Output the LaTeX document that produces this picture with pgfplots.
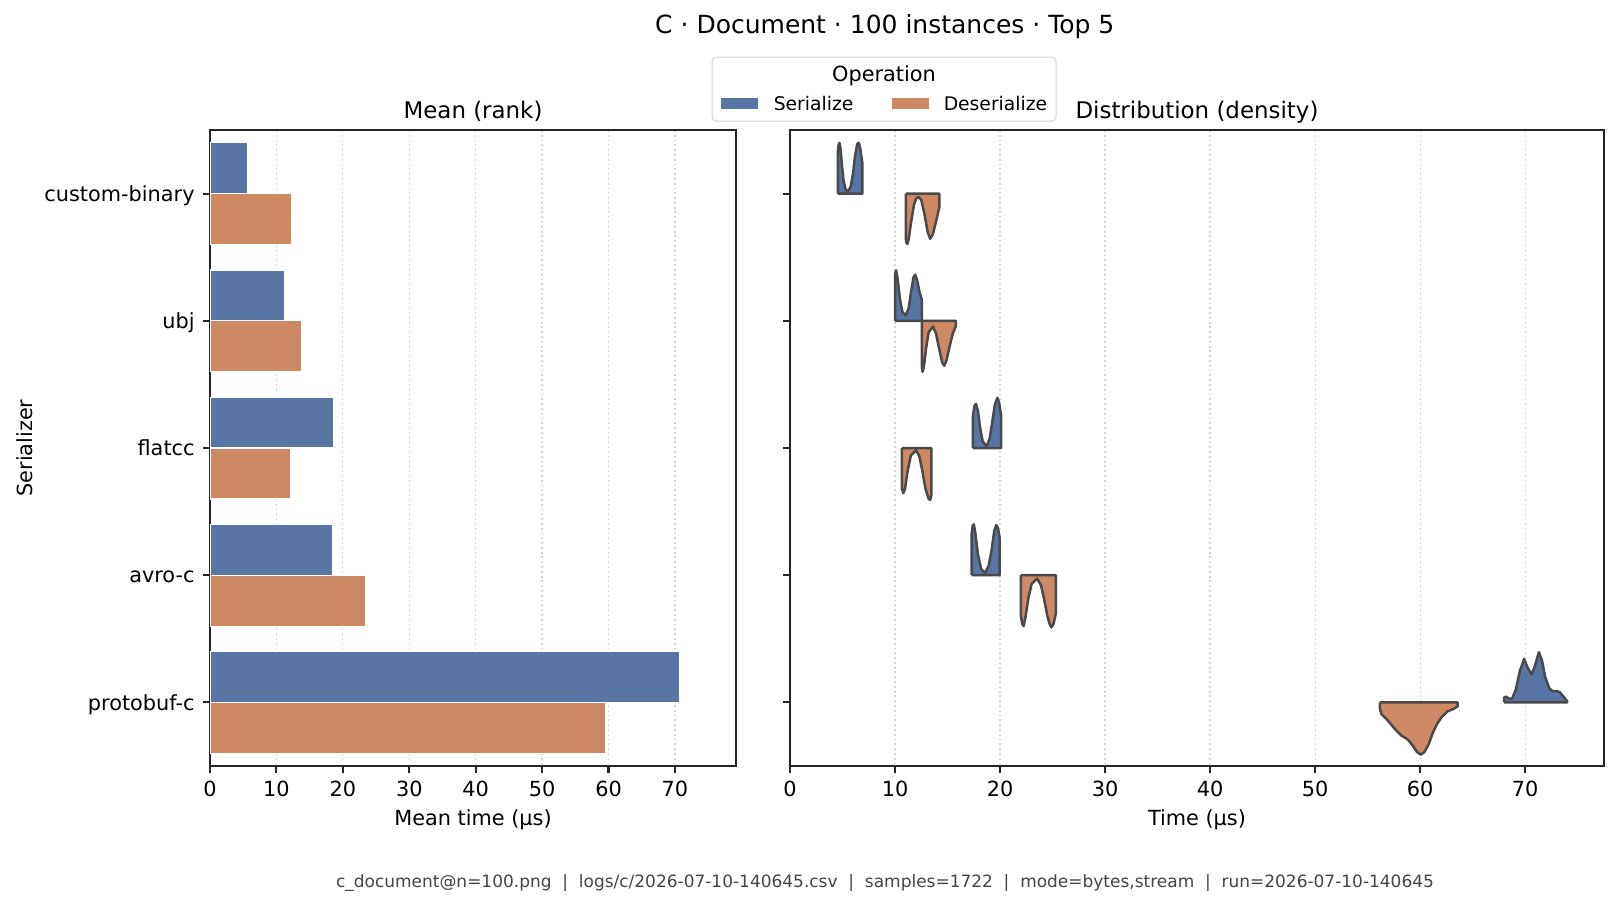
\documentclass[border=0pt]{standalone}
\usepackage{fontspec}
\setmainfont{DejaVu Sans}
\usepackage{pgfplots}
\usepackage{pgfplotstable}
\pgfplotsset{compat=1.18}

\definecolor{ser}{HTML}{5975A4}
\definecolor{des}{HTML}{CC8963}
\definecolor{spine}{HTML}{262626}
\definecolor{vedge}{HTML}{4A4A4A}
\definecolor{gridc}{HTML}{D5D5D5}
\definecolor{foot}{HTML}{444444}

% mean times (microseconds), category index 0..4 top to bottom
\pgfplotstableread{
cat ser des
0 5.61 12.23
1 11.22 13.74
2 18.66 12.09
3 18.51 23.43
4 70.75 59.55
}\means

% half-violin outlines: x = time, d = density offset (negative = upward)
\pgfplotstableread{
x d
4.55 0
4.55 -0.32
4.62 -0.38
4.70 -0.40
4.80 -0.36
4.95 -0.22
5.10 -0.10
5.30 -0.03
5.56 -0.02
5.80 -0.06
6.00 -0.16
6.20 -0.30
6.40 -0.39
6.55 -0.40
6.70 -0.35
6.85 -0.26
6.90 -0.24
6.90 0
4.55 0
}\cbS
\pgfplotstableread{
x d
11.03 0
11.03 0.36
11.10 0.39
11.18 0.395
11.30 0.36
11.50 0.24
11.80 0.09
12.00 0.04
12.24 0.026
12.50 0.05
12.80 0.16
13.10 0.30
13.35 0.355
13.60 0.32
13.90 0.22
14.21 0.11
14.21 0
11.03 0
}\cbD
\pgfplotstableread{
x d
10.01 0
10.01 -0.37
10.11 -0.397
10.25 -0.33
10.45 -0.18
10.70 -0.07
11.03 -0.042
11.30 -0.10
11.55 -0.24
11.75 -0.34
11.92 -0.363
12.10 -0.32
12.35 -0.22
12.56 -0.166
12.56 0
10.01 0
}\ubjS
\pgfplotstableread{
x d
12.56 0
12.56 0.36
12.62 0.40
12.75 0.36
12.95 0.22
13.20 0.09
13.61 0.045
13.90 0.10
14.20 0.22
14.50 0.33
14.69 0.353
14.90 0.31
15.20 0.20
15.50 0.10
15.80 0.04
15.80 0
12.56 0
}\ubjD
\pgfplotstableread{
x d
17.42 0
17.42 -0.25
17.55 -0.33
17.71 -0.347
17.90 -0.29
18.10 -0.16
18.35 -0.05
18.73 -0.016
19.00 -0.07
19.25 -0.20
19.50 -0.34
19.74 -0.395
19.90 -0.36
20.09 -0.26
20.09 0
17.42 0
}\flatS
\pgfplotstableread{
x d
10.65 0
10.65 0.32
10.80 0.355
10.95 0.32
11.20 0.18
11.50 0.06
11.99 0.018
12.30 0.06
12.60 0.18
12.90 0.32
13.20 0.40
13.35 0.408
13.45 0.37
13.45 0
10.65 0
}\flatD
\pgfplotstableread{
x d
17.30 0
17.30 -0.33
17.40 -0.39
17.50 -0.40
17.65 -0.33
17.90 -0.16
18.20 -0.05
18.57 -0.018
18.90 -0.07
19.20 -0.20
19.45 -0.35
19.64 -0.395
19.80 -0.37
19.95 -0.30
19.95 0
17.30 0
}\avroS
\pgfplotstableread{
x d
21.99 0
21.99 0.32
22.10 0.38
22.24 0.40
22.40 0.34
22.70 0.18
23.00 0.07
23.52 0.026
23.90 0.08
24.20 0.19
24.50 0.32
24.75 0.39
24.90 0.41
25.10 0.38
25.31 0.30
25.31 0
21.99 0
}\avroD
\pgfplotstableread{
x d
68.00 0
68.00 -0.04
68.20 -0.045
68.50 -0.03
68.75 -0.03
69.10 -0.10
69.50 -0.25
69.90 -0.342
70.20 -0.28
70.60 -0.22
70.90 -0.28
71.30 -0.395
71.60 -0.33
71.90 -0.20
72.30 -0.11
72.60 -0.09
73.00 -0.09
73.30 -0.08
73.70 -0.04
74.00 -0.01
74.00 0
68.00 0
}\protoS
\pgfplotstableread{
x d
56.17 0
56.17 0.05
56.30 0.09
56.90 0.14
57.50 0.20
58.20 0.26
58.80 0.29
59.30 0.34
59.70 0.39
60.05 0.41
60.40 0.39
60.80 0.33
61.20 0.24
61.60 0.17
62.00 0.12
62.60 0.07
63.20 0.05
63.57 0.03
63.57 0
56.17 0
}\protoD

\pgfplotsset{
  panel/.style={
    scale only axis,
    height=305.3pt,
    ymin=-0.5, ymax=4.5, y dir=reverse,
    ytick={0,1,2,3,4},
    xmin=0,
    xtick={0,10,...,70},
    axis line style={spine, line width=1pt},
    tick style={spine, line width=1pt},
    tick align=outside,
    major tick length=3.5pt,
    xtick pos=lower, ytick pos=left,
    xmajorgrids,
    major x grid style={gridc, line width=0.6pt, dash pattern=on 0.9pt off 1.4pt},
    tick label style={font=\fontsize{10}{12}\selectfont, text=black},
    label style={font=\fontsize{10}{12}\selectfont},
    /pgf/number format/assume math mode=true,
    xticklabel style={inner sep=0pt, anchor=north, yshift=-3.3pt},
    yticklabel style={inner sep=0pt, anchor=base east, xshift=-3.7pt, yshift=-3.7pt},
    every axis x label/.style={at={(axis description cs:0.5,-0.094)}, anchor=base},
    every axis title/.style={at={(axis description cs:0.5,1.018)}, anchor=base,
      font=\fontsize{11}{13}\selectfont},
  },
  violin/.style={line width=1.2pt, draw=vedge, line join=round},
}

\begin{document}
\begin{tikzpicture}
\useasboundingbox (0,0) rectangle (777.12pt,-434.4pt);

% left panel: mean time bars
\begin{axis}[panel,
  at={(100.8pt,-62.4pt)}, anchor=north west,
  width=252.5pt,
  xmax=79.2,
  yticklabels={custom-binary,ubj,flatcc,avro-c,protobuf-c},
  title={Mean (rank)},
  xlabel={Mean time (µs)},
  ylabel={Serializer},
  every axis y label/.style={at={(axis description cs:-0.3375,0.5)}, rotate=90, anchor=base},
]
\addplot[xbar, bar width=0.4, bar shift=-0.2, fill=ser, draw=white, line width=0.6pt]
  table[x=ser, y=cat] {\means};
\addplot[xbar, bar width=0.4, bar shift=0.2, fill=des, draw=white, line width=0.6pt]
  table[x=des, y=cat] {\means};
\end{axis}

% right panel: half violins
\begin{axis}[panel,
  at={(379.2pt,-62.4pt)}, anchor=north west,
  width=390.7pt,
  xmax=77.5,
  yticklabels={},
  title={Distribution (density)},
  xlabel={Time (µs)},
]
\addplot[violin, fill=ser] table[x=x, y expr=\thisrow{d}+0] {\cbS};
\addplot[violin, fill=des] table[x=x, y expr=\thisrow{d}+0] {\cbD};
\addplot[violin, fill=ser] table[x=x, y expr=\thisrow{d}+1] {\ubjS};
\addplot[violin, fill=des] table[x=x, y expr=\thisrow{d}+1] {\ubjD};
\addplot[violin, fill=ser] table[x=x, y expr=\thisrow{d}+2] {\flatS};
\addplot[violin, fill=des] table[x=x, y expr=\thisrow{d}+2] {\flatD};
\addplot[violin, fill=ser] table[x=x, y expr=\thisrow{d}+3] {\avroS};
\addplot[violin, fill=des] table[x=x, y expr=\thisrow{d}+3] {\avroD};
\addplot[violin, fill=ser] table[x=x, y expr=\thisrow{d}+4] {\protoS};
\addplot[violin, fill=des] table[x=x, y expr=\thisrow{d}+4] {\protoD};
\end{axis}

% figure title
\node[anchor=base, font=\fontsize{12}{14}\selectfont] at (424.7pt,-16.3pt)
  {C · Document · 100 instances · Top 5};

% legend
\draw[draw=gridc, line width=0.5pt, fill=white, rounded corners=2pt]
  (341.8pt,-27.4pt) rectangle (506.9pt,-58.1pt);
\node[anchor=base, font=\fontsize{10}{12}\selectfont] at (424.3pt,-38.9pt) {Operation};
\fill[ser] (345.9pt,-46.9pt) rectangle (363.7pt,-52.3pt);
\node[anchor=base west, inner sep=0pt, font=\fontsize{9}{11}\selectfont] at (371.2pt,-52.9pt) {Serialize};
\fill[des] (428.2pt,-46.9pt) rectangle (445.9pt,-52.3pt);
\node[anchor=base west, inner sep=0pt, font=\fontsize{9}{11}\selectfont] at (452.8pt,-52.9pt) {Deserialize};

% footer
\node[anchor=base, text=foot, font=\fontsize{8.15}{10}\selectfont] at (424.8pt,-425.8pt)
  {c\_document@n=100.png~~|~~logs/c/2026-07-10-140645.csv~~|~~samples=1722~~|~~mode=bytes,stream~~|~~run=2026-07-10-140645};
\end{tikzpicture}
\end{document}
